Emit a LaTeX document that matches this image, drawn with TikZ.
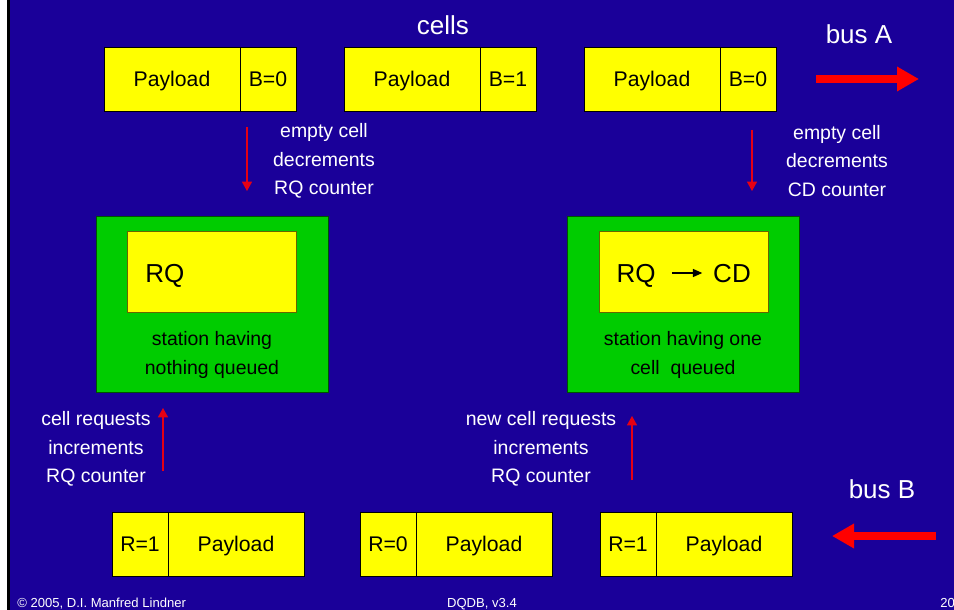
\documentclass[tikz,border=0pt]{standalone}
\usepackage{fontspec}
\setmainfont{Liberation Sans}
\usetikzlibrary{arrows.meta}

\definecolor{slideblue}{RGB}{26,0,153}
\definecolor{stationgreen}{RGB}{0,204,0}
\definecolor{cellyellow}{RGB}{255,255,0}
\definecolor{busred}{RGB}{255,0,0}
\definecolor{notered}{RGB}{230,0,20}

\tikzset{
  cellpart/.style={draw=black, line width=0.6pt, fill=cellyellow, inner sep=0pt,
    minimum height=48pt, font=\fontsize{15.9}{18}\selectfont,
    text height=11.4pt, text depth=0pt},
  payload/.style={cellpart, minimum width=102pt},
  flag/.style={cellpart, minimum width=42pt},
  station/.style={draw=black!60!stationgreen, line width=0.6pt, fill=stationgreen,
    minimum width=174pt, minimum height=132pt, inner sep=0pt},
  counter/.style={draw=black!60!cellyellow, line width=0.6pt, fill=cellyellow,
    minimum width=126.75pt, minimum height=60.75pt, inner sep=0pt},
  bigtext/.style={font=\fontsize{19.5}{22}\selectfont, inner sep=0pt,
    text height=14pt, text depth=0pt},
  note/.style={text=white, align=center, inner sep=0pt,
    font=\fontsize{14.6}{21.4}\selectfont},
  stationtext/.style={text=black, align=center, inner sep=0pt,
    font=\fontsize{14.6}{21.4}\selectfont},
  busarrow/.style={draw=busred, line width=6pt,
    -{Triangle[length=16.5pt,width=17.5pt]}},
  notearrow/.style={draw=notered, line width=0.9pt,
    -{Triangle[length=7pt,width=7.5pt]}},
  footer/.style={text=white, inner sep=0pt, font=\fontsize{9.8}{11}\selectfont},
}

\begin{document}
\begin{tikzpicture}[x=0.75pt,y=-0.75pt]
  % slide background with its left edge
  \useasboundingbox (0,0) rectangle (954,610);
  \fill[white] (0,0) rectangle (954,610);
  \fill[black] (7,0) rectangle (10,610);
  \fill[slideblue] (10,0) rectangle (954,610);

  % title and bus labels
  \node[bigtext, text=white] (title) at (443,25) {cells};
  \node[bigtext, text=white] (busAlabel) at (859,34) {bus A};
  \node[bigtext, text=white] (busBlabel) at (882,489) {bus B};

  % cells travelling on bus A
  \node[payload] (a1p) at (172,79) {Payload};
  \node[flag]    (a1b) at (268,79) {B=0};
  \node[payload] (a2p) at (412,79) {Payload};
  \node[flag]    (a2b) at (508,79) {B=1};
  \node[payload] (a3p) at (652,79) {Payload};
  \node[flag]    (a3b) at (748,79) {B=0};

  % cells travelling on bus B
  \node[flag]    (b1r) at (140,544) {R=1};
  \node[payload] (b1p) at (236,544) {Payload};
  \node[flag]    (b2r) at (388,544) {R=0};
  \node[payload] (b2p) at (484,544) {Payload};
  \node[flag]    (b3r) at (628,544) {R=1};
  \node[payload] (b3p) at (724,544) {Payload};

  % bus direction arrows
  \coordinate (busAfrom) at (816,79);
  \coordinate (busAto) at (919,79);
  \coordinate (busBfrom) at (936,536);
  \coordinate (busBto) at (832,536);
  \draw[busarrow] (busAfrom) -- (busAto);
  \draw[busarrow] (busBfrom) -- (busBto);

  % left station: nothing queued
  \node[station] (st1) at (212,304) {};
  \node[counter] (st1c) at (211.5,271.5) {};
  \node[bigtext, anchor=west] (st1rq) at (145,273) {RQ};
  \node[stationtext] (st1t) at (212,355) {station having\\nothing queued};

  % right station: one cell queued
  \node[station] (st2) at (683,304) {};
  \node[counter] (st2c) at (683.5,271.5) {};
  \node[bigtext] (st2rq) at (636,273) {RQ};
  \node[bigtext] (st2cd) at (732,273) {CD};
  \draw[black, line width=0.9pt, -{Triangle[length=7pt,width=6pt]}]
    ([xshift=12pt]st2rq.east) -- ([xshift=-8pt]st2cd.west);
  \node[stationtext] (st2t) at (683,355) {station having one\\cell\ \ queued};

  % counter notes
  \node[note] (n1) at (324,161) {empty cell\\decrements\\RQ counter};
  \node[note] (n2) at (837,161) {empty cell\\decrements\\CD counter};
  \node[note] (n3) at (96,449) {cell requests\\increments\\RQ counter};
  \node[note] (n4) at (541,449) {new cell requests\\increments\\RQ counter};

  \coordinate (d1from) at (247,127);
  \coordinate (d1to) at (247,191);
  \coordinate (d2from) at (752,130);
  \coordinate (d2to) at (752,191);
  \coordinate (u1from) at (163,471);
  \coordinate (u1to) at (163,408);
  \coordinate (u2from) at (632,480);
  \coordinate (u2to) at (632,416);
  \draw[notearrow] (d1from) -- (d1to);
  \draw[notearrow] (d2from) -- (d2to);
  \draw[notearrow] (u1from) -- (u1to);
  \draw[notearrow] (u2from) -- (u2to);

  % footer
  \node[footer, anchor=base west] (copy) at (17,607) {© 2005, D.I. Manfred Lindner};
  \node[footer, anchor=base] (deck) at (482,607) {DQDB, v3.4};
  \node[footer, anchor=base west] (page) at (940,607) {20};
\end{tikzpicture}
\end{document}
